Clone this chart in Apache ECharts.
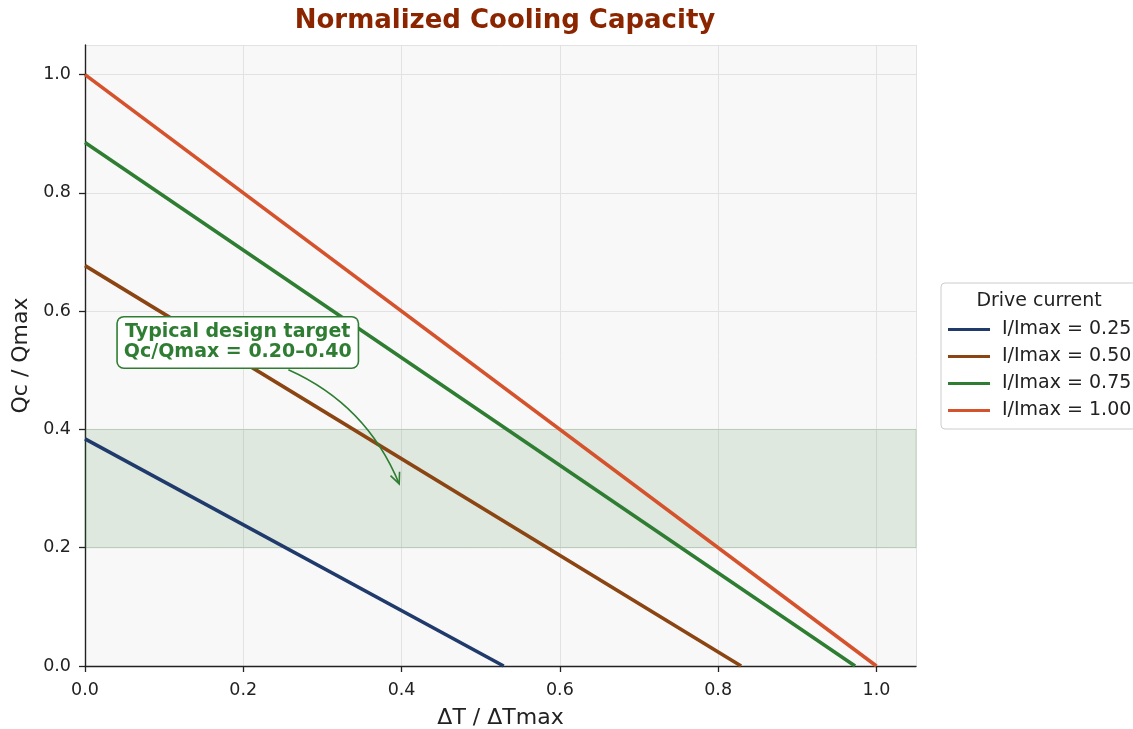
<!DOCTYPE html>
<html>
<head>
<meta charset="utf-8">
<script src="https://cdn.jsdelivr.net/npm/echarts@6/dist/echarts.min.js"></script>
<style>
  html, body { margin: 0; padding: 0; background: #fff; }
  #container { width: 1133px; height: 729px; }
</style>
</head>
<body>
<div id="container"></div>
<script>
// curves: straight lines from the Qc intercept (dT = 0) to the dT intercept (Qc = 0)
var seriesNames = ['I/Imax = 0.25', 'I/Imax = 0.50', 'I/Imax = 0.75', 'I/Imax = 1.00'];
var qcAtZero = [0.384, 0.677, 0.885, 1.0];
var dtAtZero = [0.529, 0.829, 0.973, 1.0];
var lineColors = ['#1f3a6b', '#8b4513', '#2e7d32', '#d4532d'];
var targetBand = [0.2, 0.4];
var noteText = 'Typical design target\nQc/Qmax = 0.20\u20130.40';
var noteAt = [0.193, 0.547];
var arrowFrom = [0.257, 0.501];
var arrowTo = [0.397, 0.308];

var FONT = 'DejaVu Sans';

function printChart() {
    var dom = document.getElementById('container');
    var myChart = echarts.init(dom);

    var series = [];
    // band series, drawn under the lines
    series.push({
        name: 'band',
        type: 'line',
        data: [],
        z: 1,
        silent: true,
        markArea: {
            silent: true,
            itemStyle: {
                color: 'rgba(46,125,50,0.12)',
                borderColor: 'rgba(46,125,50,0.18)',
                borderWidth: 1
            },
            data: [[{ yAxis: targetBand[0] }, { yAxis: targetBand[1] }]]
        }
    });
    for (var i = 0; i < seriesNames.length; i++) {
        series.push({
            name: seriesNames[i],
            type: 'line',
            z: 3,
            symbol: 'none',
            color: lineColors[i],
            lineStyle: { width: 3.6, color: lineColors[i] },
            data: [[0, qcAtZero[i]], [dtAtZero[i], 0]]
        });
    }

    var tickFmt = function (v) {
        if (Math.abs(Math.round(v * 5) - v * 5) > 1e-6) return '';
        return v.toFixed(1);
    };

    var option = {
        animation: false,
        backgroundColor: '#ffffff',
        title: {
            text: 'Normalized Cooling Capacity',
            left: 500,
            top: 3,
            textAlign: 'center',
            textStyle: { fontFamily: FONT, fontSize: 26, fontWeight: 'bold', color: '#8b2500' }
        },
        grid: {
            left: 85,
            right: 217,
            top: 45,
            bottom: 63,
            outerBoundsMode: 'none',
            containLabel: false,
            show: true,
            backgroundColor: '#f8f8f8',
            borderWidth: 0
        },
        legend: {
            data: seriesNames,
            orient: 'vertical',
            left: 941,
            top: 283,
            padding: [37, 20, 9, 7],
            itemGap: 8,
            itemWidth: 42,
            itemHeight: 3,
            icon: 'rect',
            backgroundColor: '#ffffff',
            borderColor: '#cccccc',
            borderWidth: 1,
            borderRadius: 4,
            textStyle: { fontFamily: FONT, fontSize: 19, color: '#222', padding: [0, 0, 0, 7] }
        },
        xAxis: {
            type: 'value',
            min: 0,
            max: 1.05,
            interval: 0.2,
            name: '\u0394T / \u0394Tmax',
            nameLocation: 'middle',
            nameGap: 41,
            nameTextStyle: { fontFamily: FONT, fontSize: 22, color: '#222' },
            axisLine: { show: true, onZero: false, lineStyle: { color: '#222', width: 1.4 } },
            axisTick: { show: true, length: 6, lineStyle: { color: '#222', width: 1.3 } },
            axisLabel: { fontFamily: FONT, fontSize: 17.5, color: '#222', margin: 15, formatter: tickFmt, showMaxLabel: false },
            splitLine: { show: true, lineStyle: { color: '#e2e2e2', width: 1 } }
        },
        yAxis: {
            type: 'value',
            min: 0,
            max: 1.05,
            interval: 0.2,
            name: 'Qc / Qmax',
            nameLocation: 'middle',
            nameGap: 49,
            nameTextStyle: { fontFamily: FONT, fontSize: 22, color: '#222' },
            axisLine: { show: true, onZero: false, lineStyle: { color: '#222', width: 1.4 } },
            axisTick: { show: true, length: 6, lineStyle: { color: '#222', width: 1.3 } },
            axisLabel: { fontFamily: FONT, fontSize: 17.5, color: '#222', margin: 14, formatter: tickFmt, showMaxLabel: false },
            splitLine: { show: true, lineStyle: { color: '#e2e2e2', width: 1 } }
        },
        series: series
    };

    myChart.setOption(option, true);

    // annotation placed from data coordinates
    var p = function (pt) { return myChart.convertToPixel({ gridIndex: 0 }, pt); };
    var a = p(arrowFrom), b = p(arrowTo), n = p(noteAt);
    var mx = (a[0] + b[0]) / 2, my = (a[1] + b[1]) / 2;
    var dx = b[0] - a[0], dy = b[1] - a[1];
    var k = 0.2;
    var c = [mx + k * dy, my - k * dx];
    var ang = Math.atan2(b[1] - c[1], b[0] - c[0]);
    var hl = 12, hw = 0.42;
    var h1 = [b[0] - hl * Math.cos(ang - hw), b[1] - hl * Math.sin(ang - hw)];
    var h2 = [b[0] - hl * Math.cos(ang + hw), b[1] - hl * Math.sin(ang + hw)];

    myChart.setOption({
        graphic: [
            {
                type: 'bezierCurve',
                z: 50,
                shape: { x1: a[0], y1: a[1], x2: b[0], y2: b[1], cpx1: c[0], cpy1: c[1] },
                style: { stroke: '#2e7d32', lineWidth: 1.6, fill: null }
            },
            {
                type: 'polyline',
                z: 50,
                shape: { points: [h1, b, h2] },
                style: { stroke: '#2e7d32', lineWidth: 1.6, fill: null }
            },
            {
                type: 'text',
                z: 60,
                x: n[0],
                y: n[1],
                style: {
                    text: noteText,
                    font: 'bold 19px "DejaVu Sans"',
                    fill: '#2e7d32',
                    align: 'center',
                    verticalAlign: 'middle',
                    lineHeight: 20,
                    backgroundColor: '#ffffff',
                    borderColor: '#2e7d32',
                    borderWidth: 1.6,
                    borderRadius: 6,
                    padding: [5, 6, 5, 6]
                }
            },
            {
                type: 'text',
                z: 60,
                x: 1039,
                y: 301,
                style: {
                    text: 'Drive current',
                    font: '19px "DejaVu Sans"',
                    fill: '#222',
                    align: 'center',
                    verticalAlign: 'middle'
                }
            }
        ]
    });
}

printChart();
</script>
</body>
</html>
